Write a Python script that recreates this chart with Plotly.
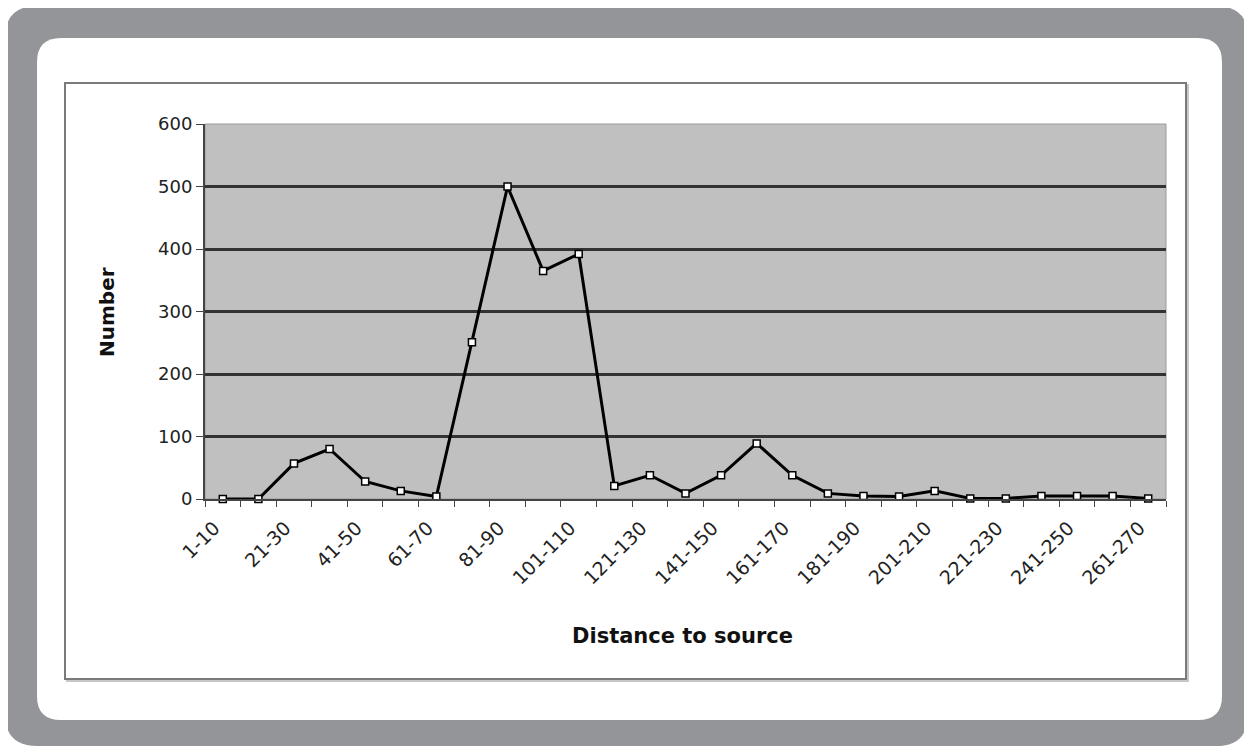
import plotly.graph_objects as go

categories = [f"{10*i+1}-{10*i+10}" for i in range(27)]
values = [0, 0, 57, 80, 28, 13, 4, 251, 500, 365, 392, 21, 38, 9, 38, 89, 38, 9, 5, 4, 13, 1, 1, 5, 5, 5, 1]
tick_labels = [c + "\u00a0\u00a0" if i % 2 == 0 else "" for i, c in enumerate(categories)]

# the page body has an 8px margin; work in page pixels and shift
OFF = 8
W, H = 1252 - OFF, 749 - OFF
PL, PR, PT, PB = 205, 1166, 124, 499   # plot area in page pixels
ML, MR, MT, MB = PL - OFF, 1252 - PR, PT - OFF, 749 - PB
PW = PR - PL
PH = PB - PT


def fx(px):
    return (px - PL) / PW


def fy(py):
    return (PB - py) / PH


def rounded_path(x0, y0, x1, y1, r):
    a, b, c, d = fx(x0), fy(y0), fx(x1), fy(y1)
    rx, ry = r / PW, r / PH
    return (f"M {a+rx},{b} L {c-rx},{b} Q {c},{b} {c},{b-ry} "
            f"L {c},{d+ry} Q {c},{d} {c-rx},{d} "
            f"L {a+rx},{d} Q {a},{d} {a},{d+ry} "
            f"L {a},{b-ry} Q {a},{b} {a+rx},{b} Z")


FONT = "DejaVu Sans"

fig = go.Figure()
fig.add_trace(go.Scatter(
    x=categories, y=values, mode="lines+markers",
    line=dict(color="black", width=3),
    marker=dict(symbol="square", size=7, color="white", line=dict(color="black", width=1.5)),
    cliponaxis=False,
))

shapes = [
    dict(type="path", xref="paper", yref="paper", path=rounded_path(5, 6, 1248, 746, 32),
         fillcolor="#939598", line=dict(width=0), layer="below"),
    dict(type="path", xref="paper", yref="paper", path=rounded_path(37, 38, 1222, 720, 24),
         fillcolor="white", line=dict(width=0), layer="below"),
    dict(type="rect", xref="paper", yref="paper", x0=fx(67), y0=fy(85), x1=fx(1188), y1=fy(681),
         fillcolor="rgba(0,0,0,0)", line=dict(color="#c8c8c8", width=2), layer="below"),
    dict(type="rect", xref="paper", yref="paper", x0=fx(65), y0=fy(83), x1=fx(1186), y1=fy(679),
         fillcolor="white", line=dict(color="#7a7a7a", width=2), layer="below"),
    dict(type="rect", xref="paper", yref="paper", x0=0, y0=0, x1=1, y1=1,
         fillcolor="#c0c0c0", line=dict(color="#9a9a9a", width=1), layer="below"),
]

annotations = [
    dict(text="<b>Number</b>", xref="paper", yref="paper", x=fx(107), y=fy(312),
         xanchor="center", yanchor="middle",
         textangle=-90, showarrow=False, font=dict(size=20, color="#111", family=FONT)),
    dict(text="<b>Distance to source</b>", xref="paper", yref="paper", x=fx(682), y=fy(636),
         xanchor="center", yanchor="middle",
         showarrow=False, font=dict(size=21, color="#111", family=FONT)),
]

fig.update_layout(
    width=W, height=H,
    margin=dict(l=ML, r=MR, t=MT, b=MB, autoexpand=False),
    paper_bgcolor="white",
    plot_bgcolor="#c0c0c0",
    showlegend=False,
    shapes=shapes,
    annotations=annotations,
    font=dict(family=FONT, size=18, color="#222"),
)
fig.update_xaxes(
    type="category", tickmode="array", tickvals=categories, ticktext=tick_labels,
    tickangle=-45, tickson="boundaries", ticks="outside", ticklen=6, tickcolor="#444",
    showline=True, linecolor="#444", linewidth=2, showgrid=False, mirror=False,
    tickfont=dict(size=19, color="#222", family=FONT), range=[-0.5, 26.5],
)
fig.update_yaxes(
    range=[0, 600], dtick=100, ticks="outside", ticklen=7, tickcolor="#444",
    showline=True, linecolor="#444", linewidth=2,
    showgrid=True, gridcolor="#333333", gridwidth=2.5, zeroline=False,
    tickfont=dict(size=18, color="#222", family=FONT),
)
fig.write_html("out.html")
